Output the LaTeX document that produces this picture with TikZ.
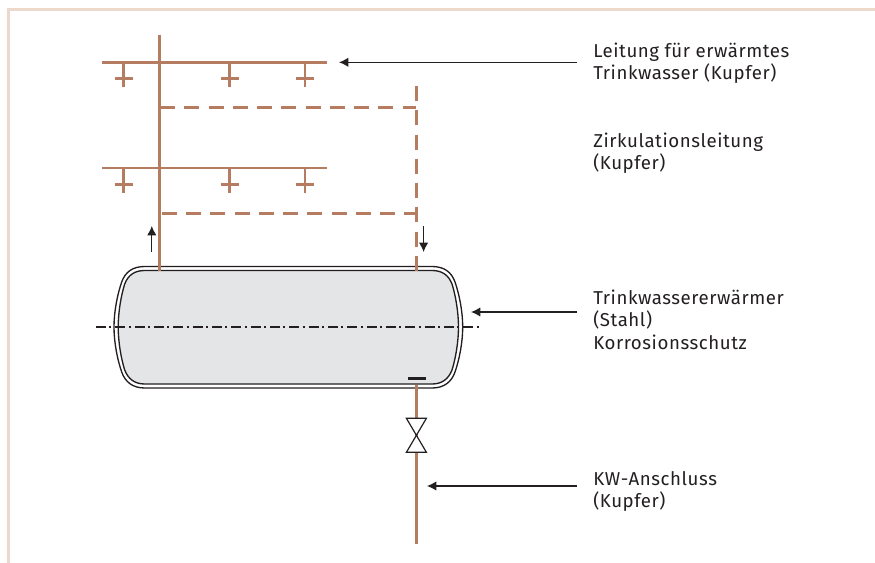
\documentclass[tikz,border=0pt]{standalone}
\usepackage{fontspec}
\setmainfont[LetterSpace=3]{Fira Sans}
\usetikzlibrary{arrows.meta}
\definecolor{pipecol}{HTML}{B57C62}
\definecolor{framecol}{HTML}{ECD9CC}
\definecolor{tankcol}{HTML}{E4E5E7}
\definecolor{inkcol}{HTML}{231F20}
\tikzset{
  x=0.75pt,y=-0.75pt,
  pipe/.style={draw=pipecol,line width=2.25pt},
  thinpipe/.style={draw=pipecol,line width=2.1pt},
  circ/.style={draw=pipecol,line width=2.25pt,dash pattern=on 11.3pt off 6.9pt},
  leader/.style={draw=inkcol,line width=0.85pt,-{Latex[length=7pt,width=7pt]}},
  shell/.style={draw=inkcol,line width=1pt},
  lab/.style={anchor=north west,inner sep=0pt,align=left,text=inkcol,font=\fontsize{14pt}{16.6pt}\selectfont},
}
\begin{document}
\begin{tikzpicture}
\useasboundingbox (0,0) rectangle (875,563);
% frame
\draw[framecol,line width=2.4pt] (8.5,563) -- (8.5,9.5) -- (875,9.5);
% tank, outer wall
\path[shell,fill=white] (144.7,266.5) -- (432,266.5)
  .. controls (444,266.5) and (451.5,272) .. (455,282)
  .. controls (459.5,295) and (462.7,312) .. (462.7,327)
  .. controls (462.7,342) and (459.5,359) .. (455,372)
  .. controls (451.5,382) and (444,388) .. (432,388)
  -- (144.7,388)
  .. controls (132.7,388) and (125.2,382) .. (121.7,372)
  .. controls (117.2,359) and (114,342) .. (114,327)
  .. controls (114,312) and (117.2,295) .. (121.7,282)
  .. controls (125.2,272) and (132.7,266.5) .. (144.7,266.5) -- cycle;
% tank, inner wall
\path[shell,fill=tankcol] (144.7,270.5) -- (432,270.5)
  .. controls (442,270.5) and (448.5,275) .. (452,284)
  .. controls (455.5,295) and (458.5,312) .. (458.5,327)
  .. controls (458.5,342) and (455.5,359) .. (452,370)
  .. controls (448.5,379) and (442,384) .. (432,384)
  -- (144.7,384)
  .. controls (134.7,384) and (128.2,379) .. (124.7,370)
  .. controls (121.2,359) and (118.2,342) .. (118.2,327)
  .. controls (118.2,312) and (121.2,295) .. (124.7,284)
  .. controls (128.2,275) and (134.7,270.5) .. (144.7,270.5) -- cycle;
% axis
\coordinate (axisL) at (96,327);
\coordinate (axisR) at (479,327);
\draw[inkcol,line width=0.9pt,dash pattern=on 7.5pt off 2.5pt on 1.5pt off 3pt] (axisL) -- (axisR);
% riser coordinates
\coordinate (riserTop) at (159.3,35);
\coordinate (riserBot) at (159.3,271);
\coordinate (circTop) at (416.4,86);
\coordinate (circBot) at (416.4,271);
\coordinate (hA) at (102,62.3);
\coordinate (hB) at (327,62.3);
\coordinate (hC) at (102,168);
\coordinate (hD) at (327,168);
\coordinate (dA) at (160,107.7);
\coordinate (dB) at (416.4,107.7);
\coordinate (dC) at (161.7,213.5);
\coordinate (dD) at (416.4,213.5);
\draw[pipe] (riserTop) -- (riserBot);
\draw[thinpipe] (hA) -- (hB);
\draw[thinpipe] (hC) -- (hD);
% taps
\foreach \x in {123.5,229.5,305}{
  \foreach \y in {62.3,168}{
    \draw[thinpipe] (\x,\y) -- (\x,\y+25);
    \draw[thinpipe] (\x-9,\y+16.3) -- (\x+9,\y+16.3);
  }
}
% circulation
\draw[circ] (dA) -- (dB);
\draw[circ] (dC) -- (dD);
\draw[circ] (circTop) -- (circBot);
% heater bar
\coordinate (barL) at (408,378.3);
\coordinate (barR) at (425.5,378.3);
\draw[inkcol,line width=2.25pt] (barL) -- (barR);
% cold water
\coordinate (cwTop) at (416.4,384.5);
\coordinate (cwBot) at (416.4,544);
\node[minimum width=0pt,inner sep=0pt] (valve) at (416.4,435.3) {};
\draw[pipe] (cwTop) -- (valve.center);
\draw[pipe] (valve.center) -- (cwBot);
\draw[inkcol,line width=0.9pt,fill=white,line join=miter]
  (406.4,418.3) -- (426.4,418.3) -- (406.4,452.3) -- (426.4,452.3) -- cycle;
% small flow arrows
\coordinate (upA) at (151.8,252);
\coordinate (upB) at (151.8,226);
\coordinate (dnA) at (423.6,226);
\coordinate (dnB) at (423.6,252);
\draw[leader] (upA) -- (upB);
\draw[leader] (dnA) -- (dnB);
% labels
\node[lab] (l1) at (593,43) {Leitung für erwärmtes\\Trinkwasser (Kupfer)};
\node[lab] (l2) at (593,133) {Zirkulationsleitung\\(Kupfer)};
\node[lab] (l3) at (593,290) {Trinkwassererwärmer\\(Stahl)\\Korrosionsschutz};
\node[lab] (l4) at (593,471) {KW-Anschluss\\(Kupfer)};
% leaders
\coordinate (a1) at (577,62.3);
\coordinate (b1) at (339,62.3);
\coordinate (a3) at (577,312);
\coordinate (b3) at (471,312);
\coordinate (a4) at (577,486);
\coordinate (b4) at (427,486);
\draw[leader] (a1) -- (b1);
\draw[leader] (a3) -- (b3);
\draw[leader] (a4) -- (b4);
\end{tikzpicture}
\end{document}
